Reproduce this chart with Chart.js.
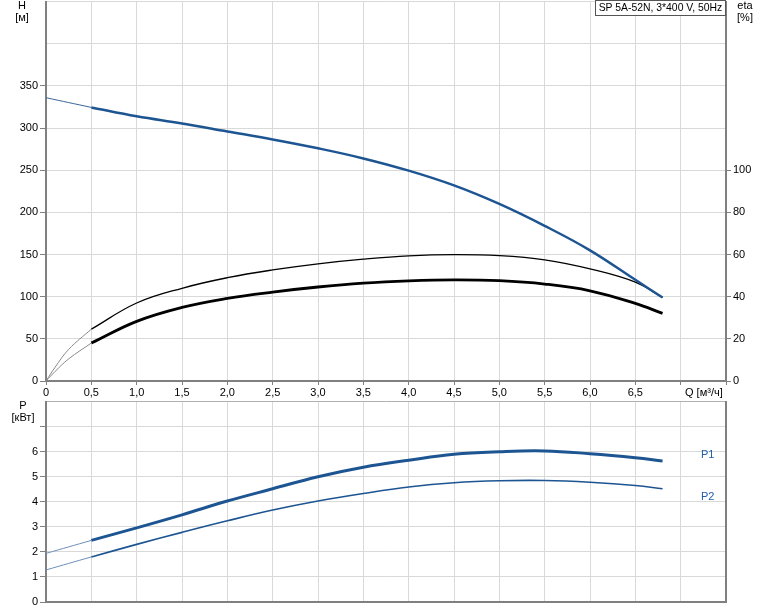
<!DOCTYPE html>
<html>
<head>
<meta charset="utf-8">
<script src="https://cdn.jsdelivr.net/npm/chart.js@4"></script>
<style>
  body { margin:0; background:#fff; }
  #wrap { position:relative; width:774px; height:611px; font-family:"Liberation Sans", Arial, sans-serif; font-size:11px; color:#000; overflow:hidden; }
  canvas { position:absolute; left:0; }
  .lbl { position:absolute; line-height:12px; text-align:center; white-space:nowrap; }
  #pump { position:absolute; left:595px; top:0; width:129px; height:14px; border:1px solid #555; background:#fff; line-height:14px; text-align:center; white-space:nowrap; font-size:10.4px; }
  .pl { position:absolute; color:#1f5fa6; line-height:12px; }
</style>
</head>
<body>
<div id="wrap">
  <canvas id="topChart" width="774" height="407" style="top:-7px"></canvas>
  <canvas id="botChart" width="774" height="218" style="top:393px"></canvas>
  <div class="lbl" style="left:12px;top:-1px;width:20px">H</div>
  <div class="lbl" style="left:10px;top:11px;width:24px">[м]</div>
  <div class="lbl" style="left:733px;top:-1px;width:24px">eta</div>
  <div class="lbl" style="left:733px;top:11px;width:24px">[%]</div>
  <div id="pump">SP 5A-52N, 3*400 V, 50Hz</div>
  <div class="lbl" style="left:685px;top:386px;text-align:left">Q [м³/ч]</div>
  <div class="lbl" style="left:13px;top:399px;width:20px">P</div>
  <div class="lbl" style="left:8px;top:411px;width:30px">[кВт]</div>
  <div class="pl" style="left:701px;top:448px">P1</div>
  <div class="pl" style="left:701px;top:490px">P2</div>
</div>
<script>
// flow points (m3/h)
const qMain  = [0.5, 1.0, 1.5, 2.0, 2.5, 3.0, 3.5, 4.0, 4.5, 5.0, 5.5, 6.0, 6.5, 6.8];
const qStart = [0, 0.5];
const qStartEta = [0, 0.1, 0.25, 0.5];

// head H [m]
const headMain  = [324.5, 314, 305.5, 296, 286.5, 276, 264, 249.5, 232, 210, 184, 155, 120, 99];
const headStart = [336, 324.5];

// efficiency eta [%]
const etaPump      = [24.6, 37, 44, 49, 52.7, 55.6, 57.8, 59.4, 60, 59.5, 57.5, 53.2, 46.9, 39.6];
const etaPumpStart = [0, 6.5, 15, 24.6];
const etaTotal      = [18, 28.3, 34.9, 39.2, 42.2, 44.6, 46.4, 47.5, 48, 47.6, 46, 42.8, 36.8, 32.1];
const etaTotalStart = [0, 4.5, 10.5, 18];

// power P [kW]
const p1Main  = [2.46, 2.96, 3.48, 4.03, 4.52, 5.0, 5.38, 5.66, 5.9, 6.0, 6.03, 5.92, 5.76, 5.63];
const p1Start = [1.94, 2.46];
const p2Main  = [1.8, 2.3, 2.78, 3.24, 3.67, 4.03, 4.33, 4.59, 4.76, 4.84, 4.85, 4.78, 4.65, 4.52];
const p2Start = [1.28, 1.8];

const FONT = { family: '"Liberation Sans", Arial, sans-serif', size: 11 };
const AXIS = '#808080', GRID = '#d9d9d9';
const BLUE = '#1d5592';
const NONE = 'rgba(0,0,0,0)';

function pts(xs, ys){ return xs.map((x,i)=>({x:x, y:ys[i]})); }
function line(data, color, w, axis){
  return { data, borderColor: color, borderWidth: w, pointRadius: 0, fill: false,
           tension: 0.4, yAxisID: axis || 'y' };
}
function qLabel(v){
  if (v >= 7) return '';
  return v === 0 ? '0' : v.toFixed(1).replace('.', ',');
}

const xCommon = {
  type: 'linear', min: 0, max: 7.5,
  border: { color: AXIS, width: 2 },
  grid: { color: GRID, lineWidth: 1, tickLength: 4, tickColor: AXIS },
  ticks: { stepSize: 0.5, autoSkip: false, maxRotation: 0, padding: 1, color: '#000', font: FONT, callback: qLabel }
};

/* ---------- H / eta chart ---------- */
new Chart(document.getElementById('topChart'), {
  type: 'line',
  data: { datasets: [
    line(pts(qStart, headStart), '#3a6597', 1),
    line(pts(qMain, headMain), BLUE, 2.5),
    line(pts(qStartEta, etaPumpStart), '#8a8a8a', 1, 'y2'),
    line(pts(qMain, etaPump), '#000', 1.3, 'y2'),
    line(pts(qStartEta, etaTotalStart), '#8a8a8a', 1, 'y2'),
    line(pts(qMain, etaTotal), '#000', 2.8, 'y2')
  ]},
  options: {
    responsive: false, animation: false,
    plugins: { legend: { display: false }, tooltip: { enabled: false } },
    scales: {
      x: Object.assign({}, xCommon, { afterFit: s => { s.height = 19; } }),
      y: {
        min: 0, max: 450,
        border: { color: AXIS, width: 2 },
        grid: { color: GRID, tickLength: 6, tickColor: c => c.tick && c.tick.value > 350 ? NONE : AXIS },
        ticks: { stepSize: 50, padding: 2, color: '#000', font: FONT, callback: v => v > 350 ? '' : v },
        afterFit: s => { s.width = 46; }
      },
      y2: {
        position: 'right', min: 0, max: 180,
        border: { color: AXIS, width: 2 },
        grid: { drawOnChartArea: false, tickLength: 5, tickColor: c => c.tick && c.tick.value > 100 ? NONE : AXIS },
        ticks: { stepSize: 20, padding: 2, color: '#000', font: FONT, callback: v => v > 100 ? '' : v },
        afterFit: s => { s.width = 48; }
      }
    }
  }
});

/* ---------- power chart ---------- */
new Chart(document.getElementById('botChart'), {
  type: 'line',
  data: { datasets: [
    line(pts(qStart, p1Start), '#6f8fb8', 1),
    line(pts(qMain, p1Main), BLUE, 3),
    line(pts(qStart, p2Start), '#6f8fb8', 1),
    line(pts(qMain, p2Main), BLUE, 1.6)
  ]},
  options: {
    responsive: false, animation: false,
    plugins: { legend: { display: false }, tooltip: { enabled: false } },
    scales: {
      x: Object.assign({}, xCommon, {
        grid: { color: GRID, lineWidth: 1, drawTicks: false },
        ticks: Object.assign({}, xCommon.ticks, { display: false }),
        afterFit: s => { s.height = 9; }
      }),
      y: {
        min: 0, max: 8,
        border: { color: AXIS, width: 2 },
        grid: { color: c => c.tick && c.tick.value === 8 ? '#b0b0b0' : GRID, tickLength: 6, tickColor: c => c.tick && c.tick.value > 7 ? NONE : AXIS },
        ticks: { stepSize: 1, padding: 2, color: '#000', font: FONT, callback: v => v > 6 ? '' : v },
        afterFit: s => { s.width = 46; }
      },
      y2: {
        position: 'right', min: 0, max: 8,
        border: { color: AXIS, width: 2 },
        grid: { drawOnChartArea: false, drawTicks: false },
        ticks: { display: false },
        afterFit: s => { s.width = 48; }
      }
    }
  }
});
</script>
</body>
</html>
